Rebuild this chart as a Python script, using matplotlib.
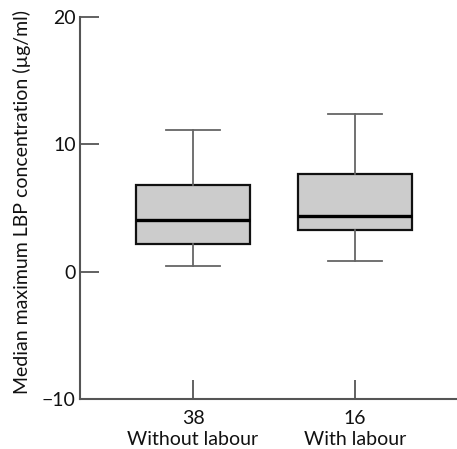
import matplotlib
matplotlib.use("Agg")
import matplotlib.pyplot as plt

groups = ["Without labour", "With labour"]
counts = ["38", "16"]
whislo = [0.47, 0.81]
q1 = [2.2, 3.25]
med = [4.08, 4.35]
q3 = [6.83, 7.65]
whishi = [11.15, 12.41]

plt.rcParams['font.family'] = ['Lato', 'DejaVu Sans']

fig = plt.figure(figsize=(4.57, 4.49), dpi=100)
ax = fig.add_axes([0.175, 0.111, 0.825, 0.851])

stats = []
for i in range(len(groups)):
    stats.append(dict(whislo=whislo[i], q1=q1[i], med=med[i], q3=q3[i],
                      whishi=whishi[i], fliers=[], label=f"{counts[i]}\n{groups[i]}"))

ax.bxp(stats, positions=[1, 2], widths=0.705, patch_artist=True,
       showfliers=False,
       boxprops=dict(facecolor="#cccccc", edgecolor="#111111", linewidth=1.6),
       medianprops=dict(color="#000000", linewidth=2.4),
       whiskerprops=dict(color="#666666", linewidth=1.3),
       capprops=dict(color="#666666", linewidth=1.3),
       capwidths=0.33)

ax.set_xlim(0.302, 2.63)
ax.set_ylim(-10, 20)
ax.set_yticks([-10, 0, 10, 20])
ax.set_yticklabels(["\u221210", "0", "10", "20"])
for s in ["top", "right"]:
    ax.spines[s].set_visible(False)
for s in ["left", "bottom"]:
    ax.spines[s].set_color("#555555")
    ax.spines[s].set_linewidth(1.5)
ax.tick_params(axis="both", direction="in", length=14, width=1.3, color="#555555",
               labelsize=14, labelcolor="#111111")
ax.tick_params(axis="x", pad=8)
ax.tick_params(axis="y", pad=3)
for lbl in ax.get_xticklabels():
    lbl.set_linespacing(1.3)
ax.set_ylabel("Median maximum LBP concentration (\u00b5g/ml)", fontsize=14, color="#111111")
ax.yaxis.set_label_coords(-0.13, 0.516)

fig.savefig("out.png", dpi=100)
